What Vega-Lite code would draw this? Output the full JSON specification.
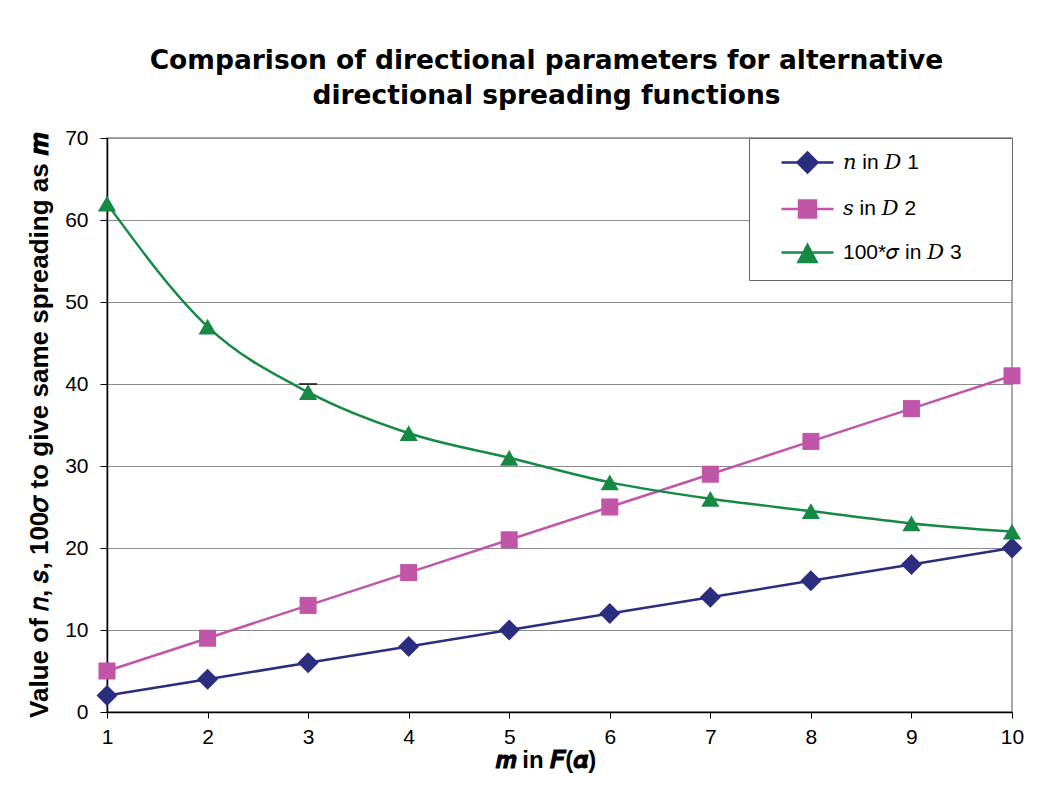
{
  "$schema": "https://vega.github.io/schema/vega-lite/v6.json",
  "autosize": "none",
  "width": 905,
  "height": 574,
  "padding": {"left": 107, "top": 138, "right": 46, "bottom": 97},
  "background": "white",
  "title": {
    "text": ["Comparison of directional parameters for alternative", "directional spreading functions"],
    "font": "DejaVu Sans",
    "fontSize": 26.5,
    "fontWeight": "bold",
    "color": "black",
    "anchor": "middle",
    "baseline": "bottom",
    "lineHeight": 35,
    "offset": -9,
    "dx": -13
  },
  "datasets": {
    "spread": [
      {"m": 1, "series": "n", "value": 2},
      {"m": 2, "series": "n", "value": 4},
      {"m": 3, "series": "n", "value": 6},
      {"m": 4, "series": "n", "value": 8},
      {"m": 5, "series": "n", "value": 10},
      {"m": 6, "series": "n", "value": 12},
      {"m": 7, "series": "n", "value": 14},
      {"m": 8, "series": "n", "value": 16},
      {"m": 9, "series": "n", "value": 18},
      {"m": 10, "series": "n", "value": 20},
      {"m": 1, "series": "s", "value": 5},
      {"m": 2, "series": "s", "value": 9},
      {"m": 3, "series": "s", "value": 13},
      {"m": 4, "series": "s", "value": 17},
      {"m": 5, "series": "s", "value": 21},
      {"m": 6, "series": "s", "value": 25},
      {"m": 7, "series": "s", "value": 29},
      {"m": 8, "series": "s", "value": 33},
      {"m": 9, "series": "s", "value": 37},
      {"m": 10, "series": "s", "value": 41},
      {"m": 1, "series": "sigma", "value": 62},
      {"m": 2, "series": "sigma", "value": 47},
      {"m": 3, "series": "sigma", "value": 39},
      {"m": 4, "series": "sigma", "value": 34},
      {"m": 5, "series": "sigma", "value": 31},
      {"m": 6, "series": "sigma", "value": 28},
      {"m": 7, "series": "sigma", "value": 26},
      {"m": 8, "series": "sigma", "value": 24.5},
      {"m": 9, "series": "sigma", "value": 23},
      {"m": 10, "series": "sigma", "value": 22}
    ],
    "cap": [{"m": 3, "value": 40}]
  },
  "encoding": {
    "x": {
      "field": "m",
      "type": "quantitative",
      "scale": {"domain": [1, 10], "nice": false, "zero": false},
      "axis": {
        "title": "𝒎 in 𝑭(𝜶)",
        "titleFont": "Liberation Sans, DejaVu Serif",
        "titleFontSize": 24,
        "titleFontWeight": "bold",
        "titleColor": "black",
        "titlePadding": 1,
        "titleX": 438,
        "values": [1, 2, 3, 4, 5, 6, 7, 8, 9, 10],
        "format": "d",
        "grid": false,
        "domainColor": "black",
        "domainWidth": 1.5,
        "tickColor": "black",
        "tickSize": 6,
        "tickWidth": 1,
        "labelFont": "Liberation Sans",
        "labelFontSize": 21,
        "labelColor": "black",
        "labelPadding": 8,
        "labelFlush": false
      }
    },
    "y": {
      "field": "value",
      "type": "quantitative",
      "scale": {"domain": [0, 70], "nice": false},
      "axis": {
        "title": "Value of 𝑛, 𝑠, 100𝜎 to give same spreading as 𝒎",
        "titleFont": "Liberation Sans, DejaVu Serif",
        "titleFontSize": 26,
        "titleFontWeight": "bold",
        "titleColor": "black",
        "titlePadding": 12,
        "values": [0, 10, 20, 30, 40, 50, 60, 70],
        "grid": true,
        "gridColor": "#8c8c8c",
        "gridWidth": 1,
        "domainColor": "black",
        "domainWidth": 1.5,
        "tickColor": "black",
        "tickSize": 7,
        "labelFont": "Liberation Sans",
        "labelFontSize": 21,
        "labelColor": "black",
        "labelPadding": 12
      }
    }
  },
  "layer": [
    {
      "data": {"name": "spread"},
      "transform": [{"filter": "datum.series !== 'sigma'"}],
      "mark": {"type": "line", "strokeWidth": 2.5},
      "encoding": {
        "color": {
          "field": "series",
          "type": "nominal",
          "scale": {"domain": ["n", "s", "sigma"], "range": ["#2b2d7e", "#c155a8", "#168a44"]},
          "legend": {
            "title": null,
            "orient": "top-right",
            "offset": 0,
            "fillColor": "white",
            "strokeColor": "#666666",
            "padding": 13,
            "rowPadding": 17.5,
            "symbolSize": 400,
            "symbolOffset": 34,
            "symbolStrokeWidth": 2.5,
            "symbolOpacity": 1,
            "labelOffset": 24,
            "labelFont": "Liberation Sans, DejaVu Serif",
            "labelFontSize": 21,
            "labelColor": "black",
            "labelLimit": 300,
            "labelExpr": "datum.value === 'n' ? '𝑛  in 𝐷 1' : datum.value === 's' ? '𝑠  in 𝐷 2' : '100*𝜎  in 𝐷 3\u2800\u2800'",
            "encode": {
              "symbols": {
                "update": {
                  "shape": {"signal": "datum.value === 'n' ? 'M-2.6,0H2.6M-1,0L0,-1L1,0L0,1Z' : datum.value === 's' ? 'M-2.6,0H2.6M-0.85,-0.85H0.85V0.85H-0.85Z' : 'M-2.6,0H2.6M-0.9,0.95L0,-0.75L0.9,0.95Z'"},
                  "stroke": {"scale": "color", "field": "value"},
                  "fill": {"scale": "color", "field": "value"},
                  "strokeWidth": {"value": 2.5},
                  "opacity": {"value": 1}
                }
              }
            }
          }
        },
        "detail": {"field": "series"}
      }
    },
    {
      "data": {"name": "spread"},
      "transform": [{"filter": "datum.series === 'sigma'"}],
      "mark": {"type": "line", "strokeWidth": 2.5, "interpolate": "monotone"},
      "encoding": {
        "color": {"field": "series", "type": "nominal"}
      }
    },
    {
      "data": {"name": "cap"},
      "mark": {"type": "tick", "orient": "horizontal", "color": "black", "size": 18, "thickness": 2}
    },
    {
      "data": {"name": "spread"},
      "transform": [{"filter": "datum.series === 'n'"}],
      "mark": {"type": "point", "filled": true, "opacity": 1, "shape": "diamond", "size": 440},
      "encoding": {"color": {"field": "series", "type": "nominal"}}
    },
    {
      "data": {"name": "spread"},
      "transform": [{"filter": "datum.series === 's'"}],
      "mark": {"type": "point", "filled": true, "opacity": 1, "shape": "square", "size": 290},
      "encoding": {"color": {"field": "series", "type": "nominal"}}
    },
    {
      "data": {"name": "spread"},
      "transform": [{"filter": "datum.series === 'sigma'"}],
      "mark": {"type": "point", "filled": true, "opacity": 1, "shape": "triangle-up", "size": 330},
      "encoding": {"color": {"field": "series", "type": "nominal"}}
    }
  ],
  "config": {
    "view": {"stroke": "#8c8c8c", "strokeWidth": 1.5}
  }
}
